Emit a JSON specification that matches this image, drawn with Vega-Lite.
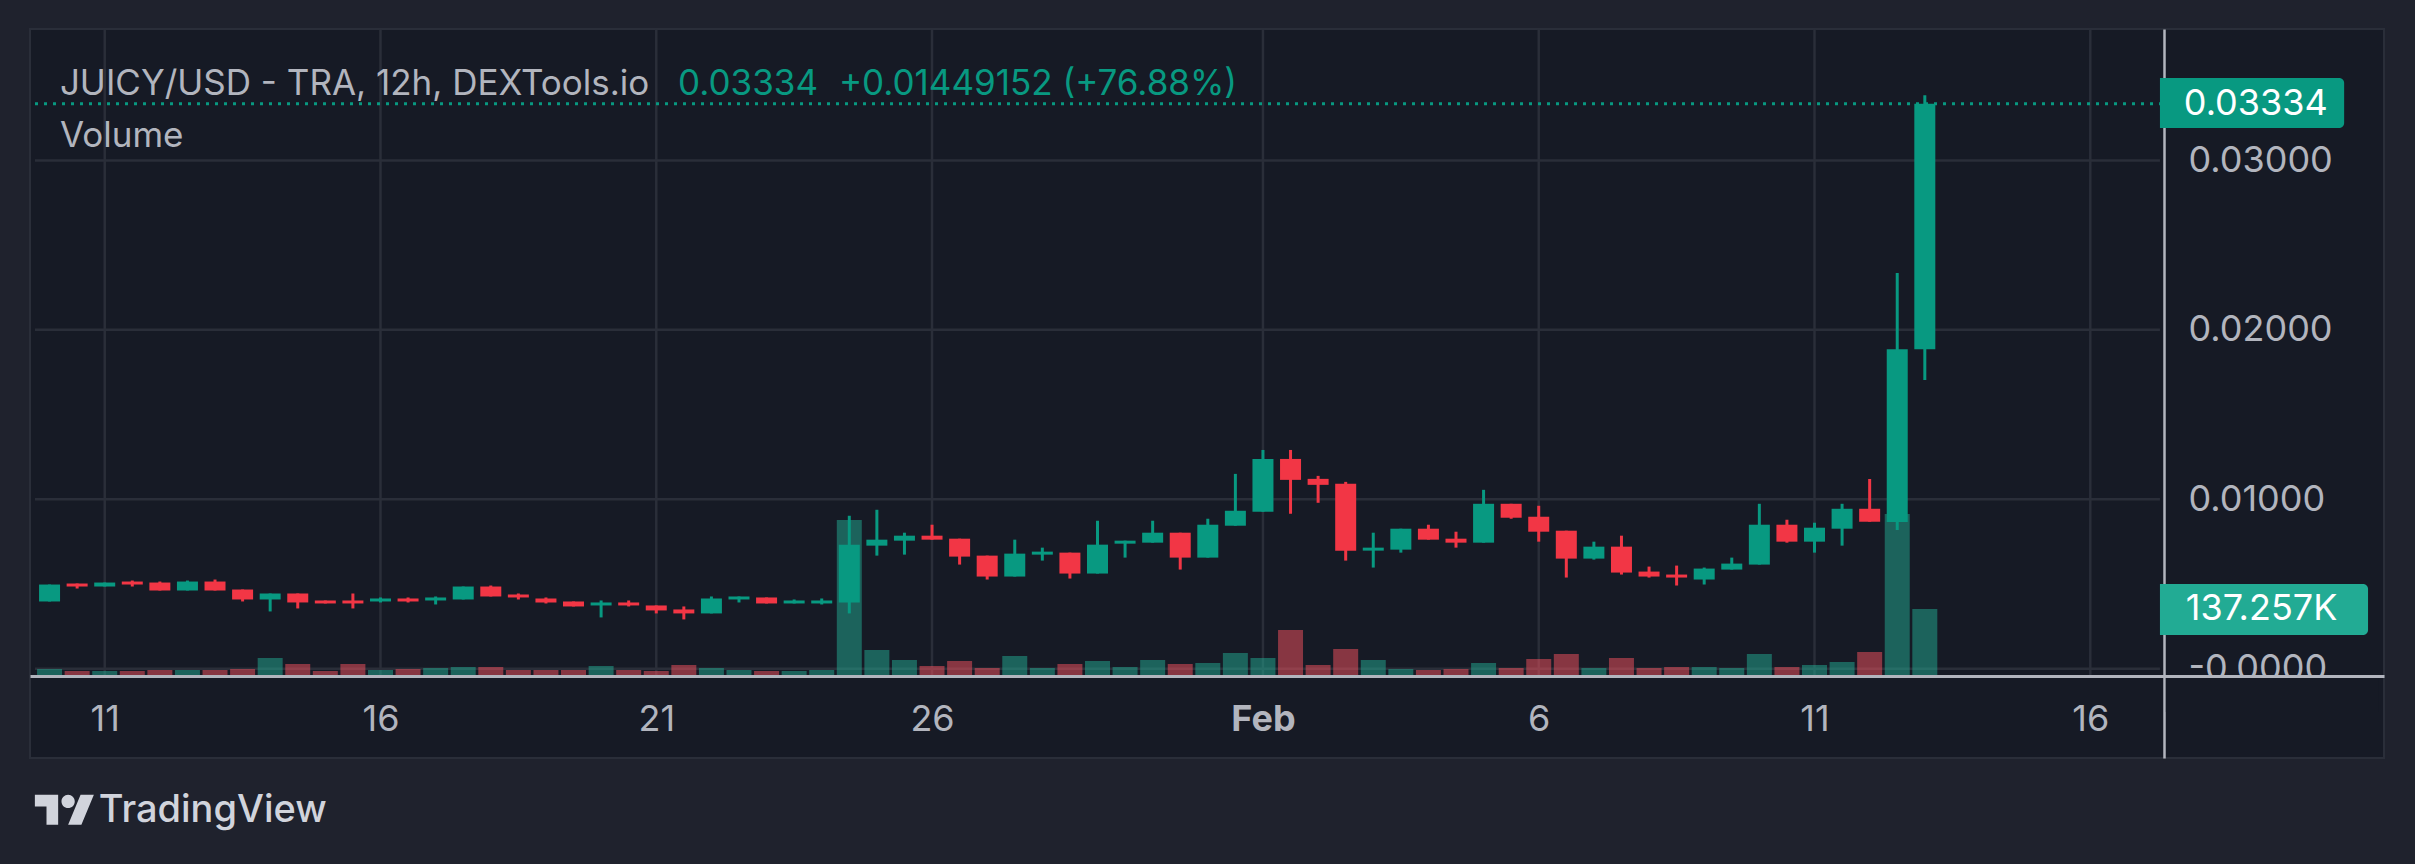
{
"$schema": "https://vega.github.io/schema/vega-lite/v6.json",
"width": 2354, "height": 729, "autosize": "none",
"padding": {"left": 30, "top": 29, "right": 31, "bottom": 106},
"background": "#1f222d",
"config": {"view": {"fill": "#161a25", "stroke": "#2a2e39", "strokeWidth": 2}, "font": "Inter"},
"datasets": {
"ohlc": [
{"t":"2024-01-10T00:00:00Z","o":0.00397,"h":0.00497,"l":0.00397,"c":0.00497,"v":14300},
{"t":"2024-01-10T12:00:00Z","o":0.00503,"h":0.00503,"l":0.004735,"c":0.004853,"v":10200},
{"t":"2024-01-11T00:00:00Z","o":0.004853,"h":0.005088,"l":0.004853,"c":0.005088,"v":10200},
{"t":"2024-01-11T12:00:00Z","o":0.005147,"h":0.005206,"l":0.004853,"c":0.004971,"v":10200},
{"t":"2024-01-12T00:00:00Z","o":0.005088,"h":0.005147,"l":0.004618,"c":0.004618,"v":12300},
{"t":"2024-01-12T12:00:00Z","o":0.004618,"h":0.005206,"l":0.004618,"c":0.005147,"v":12300},
{"t":"2024-01-13T00:00:00Z","o":0.005147,"h":0.005265,"l":0.004618,"c":0.004618,"v":12300},
{"t":"2024-01-13T12:00:00Z","o":0.004676,"h":0.004676,"l":0.003971,"c":0.004088,"v":14300},
{"t":"2024-01-14T00:00:00Z","o":0.004088,"h":0.004441,"l":0.003382,"c":0.004441,"v":36900},
{"t":"2024-01-14T12:00:00Z","o":0.004441,"h":0.004441,"l":0.003559,"c":0.003912,"v":24600},
{"t":"2024-01-15T00:00:00Z","o":0.004029,"h":0.004029,"l":0.003853,"c":0.003853,"v":10200},
{"t":"2024-01-15T12:00:00Z","o":0.004029,"h":0.004441,"l":0.003559,"c":0.003853,"v":24600},
{"t":"2024-01-16T00:00:00Z","o":0.00397,"h":0.004206,"l":0.003912,"c":0.004147,"v":12300},
{"t":"2024-01-16T12:00:00Z","o":0.004147,"h":0.004206,"l":0.003912,"c":0.00397,"v":14300},
{"t":"2024-01-17T00:00:00Z","o":0.004029,"h":0.004265,"l":0.003794,"c":0.004206,"v":16400},
{"t":"2024-01-17T12:00:00Z","o":0.004088,"h":0.004853,"l":0.004088,"c":0.004853,"v":18400},
{"t":"2024-01-18T00:00:00Z","o":0.004853,"h":0.004912,"l":0.004265,"c":0.004265,"v":18400},
{"t":"2024-01-18T12:00:00Z","o":0.004382,"h":0.004441,"l":0.004088,"c":0.004206,"v":12300},
{"t":"2024-01-19T00:00:00Z","o":0.004147,"h":0.004206,"l":0.003853,"c":0.003912,"v":12300},
{"t":"2024-01-19T12:00:00Z","o":0.00397,"h":0.00397,"l":0.003676,"c":0.003676,"v":12300},
{"t":"2024-01-20T00:00:00Z","o":0.003735,"h":0.004029,"l":0.003029,"c":0.003912,"v":20500},
{"t":"2024-01-20T12:00:00Z","o":0.003912,"h":0.004029,"l":0.003676,"c":0.003735,"v":12300},
{"t":"2024-01-21T00:00:00Z","o":0.003735,"h":0.003735,"l":0.003265,"c":0.003441,"v":10200},
{"t":"2024-01-21T12:00:00Z","o":0.0035,"h":0.003676,"l":0.002912,"c":0.003265,"v":22500},
{"t":"2024-01-22T00:00:00Z","o":0.003265,"h":0.004265,"l":0.003265,"c":0.004147,"v":16400},
{"t":"2024-01-22T12:00:00Z","o":0.004088,"h":0.004265,"l":0.003912,"c":0.004265,"v":12300},
{"t":"2024-01-23T00:00:00Z","o":0.004206,"h":0.004206,"l":0.003853,"c":0.003853,"v":10200},
{"t":"2024-01-23T12:00:00Z","o":0.003853,"h":0.004088,"l":0.003853,"c":0.004029,"v":10200},
{"t":"2024-01-24T00:00:00Z","o":0.003853,"h":0.004147,"l":0.003794,"c":0.004029,"v":12300},
{"t":"2024-01-24T12:00:00Z","o":0.003912,"h":0.009029,"l":0.003265,"c":0.007324,"v":319600},
{"t":"2024-01-25T00:00:00Z","o":0.007265,"h":0.009382,"l":0.006676,"c":0.007618,"v":53300},
{"t":"2024-01-25T12:00:00Z","o":0.007559,"h":0.008029,"l":0.006735,"c":0.007853,"v":32800},
{"t":"2024-01-26T00:00:00Z","o":0.007853,"h":0.0085,"l":0.007618,"c":0.007618,"v":20500},
{"t":"2024-01-26T12:00:00Z","o":0.007676,"h":0.007676,"l":0.006147,"c":0.006618,"v":30700},
{"t":"2024-01-27T00:00:00Z","o":0.006676,"h":0.006676,"l":0.005265,"c":0.005441,"v":16400},
{"t":"2024-01-27T12:00:00Z","o":0.005441,"h":0.007618,"l":0.005441,"c":0.006794,"v":41000},
{"t":"2024-01-28T00:00:00Z","o":0.006735,"h":0.007147,"l":0.006382,"c":0.006912,"v":16400},
{"t":"2024-01-28T12:00:00Z","o":0.006853,"h":0.006853,"l":0.005324,"c":0.005618,"v":24600},
{"t":"2024-01-29T00:00:00Z","o":0.005618,"h":0.008735,"l":0.005618,"c":0.007324,"v":30700},
{"t":"2024-01-29T12:00:00Z","o":0.007382,"h":0.007559,"l":0.006559,"c":0.007559,"v":18400},
{"t":"2024-01-30T00:00:00Z","o":0.007441,"h":0.008735,"l":0.007441,"c":0.008029,"v":32800},
{"t":"2024-01-30T12:00:00Z","o":0.008029,"h":0.008029,"l":0.005853,"c":0.006559,"v":24600},
{"t":"2024-01-31T00:00:00Z","o":0.006559,"h":0.008853,"l":0.006559,"c":0.0085,"v":26600},
{"t":"2024-01-31T12:00:00Z","o":0.008441,"h":0.0115,"l":0.008441,"c":0.009324,"v":47100},
{"t":"2024-02-01T00:00:00Z","o":0.009265,"h":0.012912,"l":0.009265,"c":0.012382,"v":36900},
{"t":"2024-02-01T12:00:00Z","o":0.012382,"h":0.012912,"l":0.009147,"c":0.011147,"v":94200},
{"t":"2024-02-02T00:00:00Z","o":0.011206,"h":0.011382,"l":0.009794,"c":0.010853,"v":22500},
{"t":"2024-02-02T12:00:00Z","o":0.010912,"h":0.011029,"l":0.006382,"c":0.006971,"v":55300},
{"t":"2024-02-03T00:00:00Z","o":0.006971,"h":0.008029,"l":0.005971,"c":0.007147,"v":32800},
{"t":"2024-02-03T12:00:00Z","o":0.007029,"h":0.008265,"l":0.006853,"c":0.008265,"v":14300},
{"t":"2024-02-04T00:00:00Z","o":0.008265,"h":0.0085,"l":0.007618,"c":0.007618,"v":12300},
{"t":"2024-02-04T12:00:00Z","o":0.007676,"h":0.008088,"l":0.007147,"c":0.007441,"v":14300},
{"t":"2024-02-05T00:00:00Z","o":0.007441,"h":0.010559,"l":0.007441,"c":0.009735,"v":26600},
{"t":"2024-02-05T12:00:00Z","o":0.009735,"h":0.009735,"l":0.008853,"c":0.008912,"v":16400},
{"t":"2024-02-06T00:00:00Z","o":0.008971,"h":0.009618,"l":0.0075,"c":0.008088,"v":34800},
{"t":"2024-02-06T12:00:00Z","o":0.008147,"h":0.008147,"l":0.005382,"c":0.0065,"v":45100},
{"t":"2024-02-07T00:00:00Z","o":0.0065,"h":0.0075,"l":0.006441,"c":0.007206,"v":16400},
{"t":"2024-02-07T12:00:00Z","o":0.007206,"h":0.007853,"l":0.005559,"c":0.005676,"v":36900},
{"t":"2024-02-08T00:00:00Z","o":0.005735,"h":0.006029,"l":0.005382,"c":0.005441,"v":16400},
{"t":"2024-02-08T12:00:00Z","o":0.005559,"h":0.006088,"l":0.004912,"c":0.005382,"v":18400},
{"t":"2024-02-09T00:00:00Z","o":0.005265,"h":0.005971,"l":0.004971,"c":0.005912,"v":18400},
{"t":"2024-02-09T12:00:00Z","o":0.005853,"h":0.006559,"l":0.005853,"c":0.006206,"v":16400},
{"t":"2024-02-10T00:00:00Z","o":0.006147,"h":0.009735,"l":0.006147,"c":0.0085,"v":45100},
{"t":"2024-02-10T12:00:00Z","o":0.0085,"h":0.008794,"l":0.007441,"c":0.0075,"v":18400},
{"t":"2024-02-11T00:00:00Z","o":0.0075,"h":0.008618,"l":0.006853,"c":0.008324,"v":22500},
{"t":"2024-02-11T12:00:00Z","o":0.008265,"h":0.009735,"l":0.007265,"c":0.009441,"v":28700},
{"t":"2024-02-12T00:00:00Z","o":0.009441,"h":0.0112,"l":0.008676,"c":0.008676,"v":49200},
{"t":"2024-02-12T12:00:00Z","o":0.00866,"h":0.02335,"l":0.00819,"c":0.01885,"v":331900},
{"t":"2024-02-13T00:00:00Z","o":0.01885,"h":0.03385,"l":0.01704,"c":0.03334,"v":137257}
],
"vgrid": [{"t":"2024-01-11T00:00:00Z"},{"t":"2024-01-16T00:00:00Z"},{"t":"2024-01-21T00:00:00Z"},{"t":"2024-01-26T00:00:00Z"},{"t":"2024-02-01T00:00:00Z"},{"t":"2024-02-06T00:00:00Z"},{"t":"2024-02-11T00:00:00Z"},{"t":"2024-02-16T00:00:00Z"}],
"hgrid": [{"p":0},{"p":0.01},{"p":0.02},{"p":0.03}]
},
"resolve": {"scale": {"y": "independent"}},
"layer": [
{"data": {"name": "vgrid"}, "mark": {"type": "rule", "stroke": "#2a2e39", "strokeWidth": 2.5},
 "encoding": {
  "x": {"field": "t", "type": "temporal",
        "scale": {"type": "utc", "domain": [{"year":2024,"month":1,"date":9,"hours":17,"minutes":40,"utc":true},{"year":2024,"month":2,"date":21,"hours":5,"minutes":38,"utc":true}]},
        "axis": {"orient": "bottom", "offset": -82, "title": null, "grid": false, "ticks": false, "values": [{"year":2024,"month":1,"date":11,"utc":true},{"year":2024,"month":1,"date":16,"utc":true},{"year":2024,"month":1,"date":21,"utc":true},{"year":2024,"month":1,"date":26,"utc":true},{"year":2024,"month":2,"date":1,"utc":true},{"year":2024,"month":2,"date":6,"utc":true},{"year":2024,"month":2,"date":11,"utc":true},{"year":2024,"month":2,"date":16,"utc":true}], "labelExpr": "utcdate(datum.value) == 1 ? utcFormat(datum.value, '%b') : utcFormat(datum.value, '%-d')", "labelFontWeight": {"condition": {"test": "utcdate(datum.value) == 1", "value": "bold"}, "value": "normal"}, "domainColor": "#b2b5be", "domainWidth": 3, "labelColor": "#b2b5be", "labelFont": "Inter", "labelFontSize": 36, "labelPadding": 43, "labelBaseline": "middle", "labelFlush": false, "labelOverlap": false, "labelBound": false, "zindex": 1}},
  "y": {"datum": 0.037755, "type": "quantitative", "scale": {"domain": [-0.005267, 0.037755], "nice": false, "zero": false}, "axis": null},
  "y2": {"datum": -0.0004}}},
{"data": {"name": "hgrid"}, "mark": {"type": "rule", "stroke": "#2a2e39", "strokeWidth": 2.5},
 "encoding": {
  "x": {"datum": {"year":2024,"month":1,"date":9,"hours":17,"minutes":40,"utc":true}, "type": "temporal", "scale": {"type": "utc", "domain": [{"year":2024,"month":1,"date":9,"hours":17,"minutes":40,"utc":true},{"year":2024,"month":2,"date":21,"hours":5,"minutes":38,"utc":true}]},
        "axis": {"orient": "bottom", "offset": -82, "title": null, "grid": false, "ticks": false, "values": [{"year":2024,"month":1,"date":11,"utc":true},{"year":2024,"month":1,"date":16,"utc":true},{"year":2024,"month":1,"date":21,"utc":true},{"year":2024,"month":1,"date":26,"utc":true},{"year":2024,"month":2,"date":1,"utc":true},{"year":2024,"month":2,"date":6,"utc":true},{"year":2024,"month":2,"date":11,"utc":true},{"year":2024,"month":2,"date":16,"utc":true}], "labelExpr": "utcdate(datum.value) == 1 ? utcFormat(datum.value, '%b') : utcFormat(datum.value, '%-d')", "labelFontWeight": {"condition": {"test": "utcdate(datum.value) == 1", "value": "bold"}, "value": "normal"}, "domainColor": "#b2b5be", "domainWidth": 3, "labelColor": "#b2b5be", "labelFont": "Inter", "labelFontSize": 36, "labelPadding": 43, "labelBaseline": "middle", "labelFlush": false, "labelOverlap": false, "labelBound": false, "zindex": 1}},
  "x2": {"datum": {"year":2024,"month":2,"date":17,"hours":6,"minutes":19,"utc":true}},
  "y": {"field": "p", "type": "quantitative", "scale": {"domain": [-0.005267, 0.037755], "nice": false, "zero": false},
        "axis": {"orient": "right", "offset": -220, "title": null, "grid": false, "ticks": false, "values": [0, 0.01, 0.02, 0.03],
                 "labelExpr": "datum.value == 0 ? '-0.0000' : format(datum.value, '.5f')",
                 "domainColor": "#b2b5be", "domainWidth": 2.5, "labelColor": "#b2b5be", "labelFont": "Inter", "labelFontSize": 36,
                 "labelPadding": 24, "labelBaseline": "middle", "labelFlush": false, "labelOverlap": false, "labelBound": false, "zindex": 0}}}},
{"data": {"name": "ohlc"}, "mark": {"type": "bar", "size": 25, "opacity": 0.5},
 "encoding": {
  "x": {"field": "t", "type": "temporal", "scale": {"type": "utc", "domain": [{"year":2024,"month":1,"date":9,"hours":17,"minutes":40,"utc":true},{"year":2024,"month":2,"date":21,"hours":5,"minutes":38,"utc":true}]},
        "axis": {"orient": "bottom", "offset": -82, "title": null, "grid": false, "ticks": false, "values": [{"year":2024,"month":1,"date":11,"utc":true},{"year":2024,"month":1,"date":16,"utc":true},{"year":2024,"month":1,"date":21,"utc":true},{"year":2024,"month":1,"date":26,"utc":true},{"year":2024,"month":2,"date":1,"utc":true},{"year":2024,"month":2,"date":6,"utc":true},{"year":2024,"month":2,"date":11,"utc":true},{"year":2024,"month":2,"date":16,"utc":true}], "labelExpr": "utcdate(datum.value) == 1 ? utcFormat(datum.value, '%b') : utcFormat(datum.value, '%-d')", "labelFontWeight": {"condition": {"test": "utcdate(datum.value) == 1", "value": "bold"}, "value": "normal"}, "domainColor": "#b2b5be", "domainWidth": 3, "labelColor": "#b2b5be", "labelFont": "Inter", "labelFontSize": 36, "labelPadding": 43, "labelBaseline": "middle", "labelFlush": false, "labelOverlap": false, "labelBound": false, "zindex": 1}},
  "y": {"field": "v", "type": "quantitative", "scale": {"domain": [-167985, 1325445], "nice": false, "zero": false}, "axis": null},
  "y2": {"datum": 0},
  "color": {"condition": {"test": "datum.c >= datum.o", "value": "#22ab94"}, "value": "#f7525f"}}},
{"data": {"values": [{}]}, "mark": {"type": "rule", "stroke": "#089981", "strokeWidth": 3, "strokeDash": [3, 6]},
 "encoding": {
  "x": {"datum": {"year":2024,"month":1,"date":9,"hours":17,"minutes":40,"utc":true}, "type": "temporal", "scale": {"type": "utc", "domain": [{"year":2024,"month":1,"date":9,"hours":17,"minutes":40,"utc":true},{"year":2024,"month":2,"date":21,"hours":5,"minutes":38,"utc":true}]},
        "axis": {"orient": "bottom", "offset": -82, "title": null, "grid": false, "ticks": false, "values": [{"year":2024,"month":1,"date":11,"utc":true},{"year":2024,"month":1,"date":16,"utc":true},{"year":2024,"month":1,"date":21,"utc":true},{"year":2024,"month":1,"date":26,"utc":true},{"year":2024,"month":2,"date":1,"utc":true},{"year":2024,"month":2,"date":6,"utc":true},{"year":2024,"month":2,"date":11,"utc":true},{"year":2024,"month":2,"date":16,"utc":true}], "labelExpr": "utcdate(datum.value) == 1 ? utcFormat(datum.value, '%b') : utcFormat(datum.value, '%-d')", "labelFontWeight": {"condition": {"test": "utcdate(datum.value) == 1", "value": "bold"}, "value": "normal"}, "domainColor": "#b2b5be", "domainWidth": 3, "labelColor": "#b2b5be", "labelFont": "Inter", "labelFontSize": 36, "labelPadding": 43, "labelBaseline": "middle", "labelFlush": false, "labelOverlap": false, "labelBound": false, "zindex": 1}},
  "x2": {"datum": {"year":2024,"month":2,"date":17,"hours":6,"minutes":19,"utc":true}},
  "y": {"datum": 0.03334, "type": "quantitative", "scale": {"domain": [-0.005267, 0.037755], "nice": false, "zero": false}, "axis": null}}},
{"data": {"name": "ohlc"}, "mark": {"type": "rule", "strokeWidth": 3},
 "encoding": {
  "x": {"field": "t", "type": "temporal", "scale": {"type": "utc", "domain": [{"year":2024,"month":1,"date":9,"hours":17,"minutes":40,"utc":true},{"year":2024,"month":2,"date":21,"hours":5,"minutes":38,"utc":true}]},
        "axis": {"orient": "bottom", "offset": -82, "title": null, "grid": false, "ticks": false, "values": [{"year":2024,"month":1,"date":11,"utc":true},{"year":2024,"month":1,"date":16,"utc":true},{"year":2024,"month":1,"date":21,"utc":true},{"year":2024,"month":1,"date":26,"utc":true},{"year":2024,"month":2,"date":1,"utc":true},{"year":2024,"month":2,"date":6,"utc":true},{"year":2024,"month":2,"date":11,"utc":true},{"year":2024,"month":2,"date":16,"utc":true}], "labelExpr": "utcdate(datum.value) == 1 ? utcFormat(datum.value, '%b') : utcFormat(datum.value, '%-d')", "labelFontWeight": {"condition": {"test": "utcdate(datum.value) == 1", "value": "bold"}, "value": "normal"}, "domainColor": "#b2b5be", "domainWidth": 3, "labelColor": "#b2b5be", "labelFont": "Inter", "labelFontSize": 36, "labelPadding": 43, "labelBaseline": "middle", "labelFlush": false, "labelOverlap": false, "labelBound": false, "zindex": 1}},
  "y": {"field": "l", "type": "quantitative", "scale": {"domain": [-0.005267, 0.037755], "nice": false, "zero": false}, "axis": null},
  "y2": {"field": "h"},
  "color": {"condition": {"test": "datum.c >= datum.o", "value": "#089981"}, "value": "#f23645"}}},
{"data": {"name": "ohlc"}, "mark": {"type": "bar", "size": 21},
 "encoding": {
  "x": {"field": "t", "type": "temporal", "scale": {"type": "utc", "domain": [{"year":2024,"month":1,"date":9,"hours":17,"minutes":40,"utc":true},{"year":2024,"month":2,"date":21,"hours":5,"minutes":38,"utc":true}]},
        "axis": {"orient": "bottom", "offset": -82, "title": null, "grid": false, "ticks": false, "values": [{"year":2024,"month":1,"date":11,"utc":true},{"year":2024,"month":1,"date":16,"utc":true},{"year":2024,"month":1,"date":21,"utc":true},{"year":2024,"month":1,"date":26,"utc":true},{"year":2024,"month":2,"date":1,"utc":true},{"year":2024,"month":2,"date":6,"utc":true},{"year":2024,"month":2,"date":11,"utc":true},{"year":2024,"month":2,"date":16,"utc":true}], "labelExpr": "utcdate(datum.value) == 1 ? utcFormat(datum.value, '%b') : utcFormat(datum.value, '%-d')", "labelFontWeight": {"condition": {"test": "utcdate(datum.value) == 1", "value": "bold"}, "value": "normal"}, "domainColor": "#b2b5be", "domainWidth": 3, "labelColor": "#b2b5be", "labelFont": "Inter", "labelFontSize": 36, "labelPadding": 43, "labelBaseline": "middle", "labelFlush": false, "labelOverlap": false, "labelBound": false, "zindex": 1}},
  "y": {"field": "o", "type": "quantitative", "scale": {"domain": [-0.005267, 0.037755], "nice": false, "zero": false}, "axis": null},
  "y2": {"field": "c"},
  "color": {"condition": {"test": "datum.c >= datum.o", "value": "#089981"}, "value": "#f23645"}}},
{"data": {"values": [{}]}, "mark": {"type": "rect", "fill": "#161a25"},
 "encoding": {
  "x": {"datum": {"year":2024,"month":2,"date":17,"hours":8,"minutes":54,"utc":true}, "type": "temporal", "scale": {"type": "utc", "domain": [{"year":2024,"month":1,"date":9,"hours":17,"minutes":40,"utc":true},{"year":2024,"month":2,"date":21,"hours":5,"minutes":38,"utc":true}]},
        "axis": {"orient": "bottom", "offset": -82, "title": null, "grid": false, "ticks": false, "values": [{"year":2024,"month":1,"date":11,"utc":true},{"year":2024,"month":1,"date":16,"utc":true},{"year":2024,"month":1,"date":21,"utc":true},{"year":2024,"month":1,"date":26,"utc":true},{"year":2024,"month":2,"date":1,"utc":true},{"year":2024,"month":2,"date":6,"utc":true},{"year":2024,"month":2,"date":11,"utc":true},{"year":2024,"month":2,"date":16,"utc":true}], "labelExpr": "utcdate(datum.value) == 1 ? utcFormat(datum.value, '%b') : utcFormat(datum.value, '%-d')", "labelFontWeight": {"condition": {"test": "utcdate(datum.value) == 1", "value": "bold"}, "value": "normal"}, "domainColor": "#b2b5be", "domainWidth": 3, "labelColor": "#b2b5be", "labelFont": "Inter", "labelFontSize": 36, "labelPadding": 43, "labelBaseline": "middle", "labelFlush": false, "labelOverlap": false, "labelBound": false, "zindex": 1}},
  "x2": {"datum": {"year":2024,"month":2,"date":21,"hours":5,"minutes":30,"utc":true}},
  "y": {"datum": -0.000427, "type": "quantitative", "scale": {"domain": [-0.005267, 0.037755], "nice": false, "zero": false}, "axis": null},
  "y2": {"datum": -0.002552}}},
{"data": {"values": [{}]}, "mark": {"type": "rect", "fill": "#089981", "cornerRadiusTopRight": 5, "cornerRadiusBottomRight": 5},
 "encoding": {
  "x": {"datum": {"year":2024,"month":2,"date":17,"hours":6,"minutes":19,"utc":true}, "type": "temporal", "scale": {"type": "utc", "domain": [{"year":2024,"month":1,"date":9,"hours":17,"minutes":40,"utc":true},{"year":2024,"month":2,"date":21,"hours":5,"minutes":38,"utc":true}]},
        "axis": {"orient": "bottom", "offset": -82, "title": null, "grid": false, "ticks": false, "values": [{"year":2024,"month":1,"date":11,"utc":true},{"year":2024,"month":1,"date":16,"utc":true},{"year":2024,"month":1,"date":21,"utc":true},{"year":2024,"month":1,"date":26,"utc":true},{"year":2024,"month":2,"date":1,"utc":true},{"year":2024,"month":2,"date":6,"utc":true},{"year":2024,"month":2,"date":11,"utc":true},{"year":2024,"month":2,"date":16,"utc":true}], "labelExpr": "utcdate(datum.value) == 1 ? utcFormat(datum.value, '%b') : utcFormat(datum.value, '%-d')", "labelFontWeight": {"condition": {"test": "utcdate(datum.value) == 1", "value": "bold"}, "value": "normal"}, "domainColor": "#b2b5be", "domainWidth": 3, "labelColor": "#b2b5be", "labelFont": "Inter", "labelFontSize": 36, "labelPadding": 43, "labelBaseline": "middle", "labelFlush": false, "labelOverlap": false, "labelBound": false, "zindex": 1}},
  "x2": {"datum": {"year":2024,"month":2,"date":20,"hours":14,"minutes":28,"utc":true}},
  "y": {"datum": 0.034863, "type": "quantitative", "scale": {"domain": [-0.005267, 0.037755], "nice": false, "zero": false}, "axis": null},
  "y2": {"datum": 0.031913}}},
{"data": {"values": [{}]}, "mark": {"type": "text", "text": "0.03334", "align": "left", "baseline": "middle", "fontSize": 36, "color": "#ffffff"},
 "encoding": {
  "x": {"datum": {"year":2024,"month":2,"date":17,"hours":16,"minutes":43,"utc":true}, "type": "temporal", "scale": {"type": "utc", "domain": [{"year":2024,"month":1,"date":9,"hours":17,"minutes":40,"utc":true},{"year":2024,"month":2,"date":21,"hours":5,"minutes":38,"utc":true}]},
        "axis": {"orient": "bottom", "offset": -82, "title": null, "grid": false, "ticks": false, "values": [{"year":2024,"month":1,"date":11,"utc":true},{"year":2024,"month":1,"date":16,"utc":true},{"year":2024,"month":1,"date":21,"utc":true},{"year":2024,"month":1,"date":26,"utc":true},{"year":2024,"month":2,"date":1,"utc":true},{"year":2024,"month":2,"date":6,"utc":true},{"year":2024,"month":2,"date":11,"utc":true},{"year":2024,"month":2,"date":16,"utc":true}], "labelExpr": "utcdate(datum.value) == 1 ? utcFormat(datum.value, '%b') : utcFormat(datum.value, '%-d')", "labelFontWeight": {"condition": {"test": "utcdate(datum.value) == 1", "value": "bold"}, "value": "normal"}, "domainColor": "#b2b5be", "domainWidth": 3, "labelColor": "#b2b5be", "labelFont": "Inter", "labelFontSize": 36, "labelPadding": 43, "labelBaseline": "middle", "labelFlush": false, "labelOverlap": false, "labelBound": false, "zindex": 1}},
  "y": {"datum": 0.03334, "type": "quantitative", "scale": {"domain": [-0.005267, 0.037755], "nice": false, "zero": false}, "axis": null}}},
{"data": {"values": [{}]}, "mark": {"type": "rect", "fill": "#22ab94", "cornerRadiusTopRight": 5, "cornerRadiusBottomRight": 5},
 "encoding": {
  "x": {"datum": {"year":2024,"month":2,"date":17,"hours":6,"minutes":19,"utc":true}, "type": "temporal", "scale": {"type": "utc", "domain": [{"year":2024,"month":1,"date":9,"hours":17,"minutes":40,"utc":true},{"year":2024,"month":2,"date":21,"hours":5,"minutes":38,"utc":true}]},
        "axis": {"orient": "bottom", "offset": -82, "title": null, "grid": false, "ticks": false, "values": [{"year":2024,"month":1,"date":11,"utc":true},{"year":2024,"month":1,"date":16,"utc":true},{"year":2024,"month":1,"date":21,"utc":true},{"year":2024,"month":1,"date":26,"utc":true},{"year":2024,"month":2,"date":1,"utc":true},{"year":2024,"month":2,"date":6,"utc":true},{"year":2024,"month":2,"date":11,"utc":true},{"year":2024,"month":2,"date":16,"utc":true}], "labelExpr": "utcdate(datum.value) == 1 ? utcFormat(datum.value, '%b') : utcFormat(datum.value, '%-d')", "labelFontWeight": {"condition": {"test": "utcdate(datum.value) == 1", "value": "bold"}, "value": "normal"}, "domainColor": "#b2b5be", "domainWidth": 3, "labelColor": "#b2b5be", "labelFont": "Inter", "labelFontSize": 36, "labelPadding": 43, "labelBaseline": "middle", "labelFlush": false, "labelOverlap": false, "labelBound": false, "zindex": 1}},
  "x2": {"datum": {"year":2024,"month":2,"date":21,"hours":0,"minutes":52,"utc":true}},
  "y": {"datum": 188472, "type": "quantitative", "scale": {"domain": [-167985, 1325445], "nice": false, "zero": false}, "axis": null},
  "y2": {"datum": 83993}}},
{"data": {"values": [{}]}, "mark": {"type": "text", "text": "137.257K", "align": "left", "baseline": "middle", "fontSize": 36, "color": "#ffffff"},
 "encoding": {
  "x": {"datum": {"year":2024,"month":2,"date":17,"hours":17,"minutes":35,"utc":true}, "type": "temporal", "scale": {"type": "utc", "domain": [{"year":2024,"month":1,"date":9,"hours":17,"minutes":40,"utc":true},{"year":2024,"month":2,"date":21,"hours":5,"minutes":38,"utc":true}]},
        "axis": {"orient": "bottom", "offset": -82, "title": null, "grid": false, "ticks": false, "values": [{"year":2024,"month":1,"date":11,"utc":true},{"year":2024,"month":1,"date":16,"utc":true},{"year":2024,"month":1,"date":21,"utc":true},{"year":2024,"month":1,"date":26,"utc":true},{"year":2024,"month":2,"date":1,"utc":true},{"year":2024,"month":2,"date":6,"utc":true},{"year":2024,"month":2,"date":11,"utc":true},{"year":2024,"month":2,"date":16,"utc":true}], "labelExpr": "utcdate(datum.value) == 1 ? utcFormat(datum.value, '%b') : utcFormat(datum.value, '%-d')", "labelFontWeight": {"condition": {"test": "utcdate(datum.value) == 1", "value": "bold"}, "value": "normal"}, "domainColor": "#b2b5be", "domainWidth": 3, "labelColor": "#b2b5be", "labelFont": "Inter", "labelFontSize": 36, "labelPadding": 43, "labelBaseline": "middle", "labelFlush": false, "labelOverlap": false, "labelBound": false, "zindex": 1}},
  "y": {"datum": 137257, "type": "quantitative", "scale": {"domain": [-167985, 1325445], "nice": false, "zero": false}, "axis": null}}},
{"data": {"values": [{}]}, "mark": {"type": "text", "text": "JUICY/USD - TRA, 12h, DEXTools.io", "align": "left", "baseline": "alphabetic", "fontSize": 35, "color": "#b2b5be"},
 "encoding": {
  "x": {"datum": {"year":2024,"month":1,"date":10,"hours":4,"minutes":30,"utc":true}, "type": "temporal", "scale": {"type": "utc", "domain": [{"year":2024,"month":1,"date":9,"hours":17,"minutes":40,"utc":true},{"year":2024,"month":2,"date":21,"hours":5,"minutes":38,"utc":true}]},
        "axis": {"orient": "bottom", "offset": -82, "title": null, "grid": false, "ticks": false, "values": [{"year":2024,"month":1,"date":11,"utc":true},{"year":2024,"month":1,"date":16,"utc":true},{"year":2024,"month":1,"date":21,"utc":true},{"year":2024,"month":1,"date":26,"utc":true},{"year":2024,"month":2,"date":1,"utc":true},{"year":2024,"month":2,"date":6,"utc":true},{"year":2024,"month":2,"date":11,"utc":true},{"year":2024,"month":2,"date":16,"utc":true}], "labelExpr": "utcdate(datum.value) == 1 ? utcFormat(datum.value, '%b') : utcFormat(datum.value, '%-d')", "labelFontWeight": {"condition": {"test": "utcdate(datum.value) == 1", "value": "bold"}, "value": "normal"}, "domainColor": "#b2b5be", "domainWidth": 3, "labelColor": "#b2b5be", "labelFont": "Inter", "labelFontSize": 36, "labelPadding": 43, "labelBaseline": "middle", "labelFlush": false, "labelOverlap": false, "labelBound": false, "zindex": 1}},
  "y": {"datum": 0.03386, "type": "quantitative", "scale": {"domain": [-0.005267, 0.037755], "nice": false, "zero": false}, "axis": null}}},
{"data": {"values": [{}]}, "mark": {"type": "text", "text": "0.03334", "align": "left", "baseline": "alphabetic", "fontSize": 35, "color": "#089981"},
 "encoding": {
  "x": {"datum": {"year":2024,"month":1,"date":21,"hours":9,"minutes":30,"utc":true}, "type": "temporal", "scale": {"type": "utc", "domain": [{"year":2024,"month":1,"date":9,"hours":17,"minutes":40,"utc":true},{"year":2024,"month":2,"date":21,"hours":5,"minutes":38,"utc":true}]},
        "axis": {"orient": "bottom", "offset": -82, "title": null, "grid": false, "ticks": false, "values": [{"year":2024,"month":1,"date":11,"utc":true},{"year":2024,"month":1,"date":16,"utc":true},{"year":2024,"month":1,"date":21,"utc":true},{"year":2024,"month":1,"date":26,"utc":true},{"year":2024,"month":2,"date":1,"utc":true},{"year":2024,"month":2,"date":6,"utc":true},{"year":2024,"month":2,"date":11,"utc":true},{"year":2024,"month":2,"date":16,"utc":true}], "labelExpr": "utcdate(datum.value) == 1 ? utcFormat(datum.value, '%b') : utcFormat(datum.value, '%-d')", "labelFontWeight": {"condition": {"test": "utcdate(datum.value) == 1", "value": "bold"}, "value": "normal"}, "domainColor": "#b2b5be", "domainWidth": 3, "labelColor": "#b2b5be", "labelFont": "Inter", "labelFontSize": 36, "labelPadding": 43, "labelBaseline": "middle", "labelFlush": false, "labelOverlap": false, "labelBound": false, "zindex": 1}},
  "y": {"datum": 0.03386, "type": "quantitative", "scale": {"domain": [-0.005267, 0.037755], "nice": false, "zero": false}, "axis": null}}},
{"data": {"values": [{}]}, "mark": {"type": "text", "text": "+0.01449152 (+76.88%)", "align": "left", "baseline": "alphabetic", "fontSize": 35, "color": "#089981"},
 "encoding": {
  "x": {"datum": {"year":2024,"month":1,"date":24,"hours":7,"minutes":30,"utc":true}, "type": "temporal", "scale": {"type": "utc", "domain": [{"year":2024,"month":1,"date":9,"hours":17,"minutes":40,"utc":true},{"year":2024,"month":2,"date":21,"hours":5,"minutes":38,"utc":true}]},
        "axis": {"orient": "bottom", "offset": -82, "title": null, "grid": false, "ticks": false, "values": [{"year":2024,"month":1,"date":11,"utc":true},{"year":2024,"month":1,"date":16,"utc":true},{"year":2024,"month":1,"date":21,"utc":true},{"year":2024,"month":1,"date":26,"utc":true},{"year":2024,"month":2,"date":1,"utc":true},{"year":2024,"month":2,"date":6,"utc":true},{"year":2024,"month":2,"date":11,"utc":true},{"year":2024,"month":2,"date":16,"utc":true}], "labelExpr": "utcdate(datum.value) == 1 ? utcFormat(datum.value, '%b') : utcFormat(datum.value, '%-d')", "labelFontWeight": {"condition": {"test": "utcdate(datum.value) == 1", "value": "bold"}, "value": "normal"}, "domainColor": "#b2b5be", "domainWidth": 3, "labelColor": "#b2b5be", "labelFont": "Inter", "labelFontSize": 36, "labelPadding": 43, "labelBaseline": "middle", "labelFlush": false, "labelOverlap": false, "labelBound": false, "zindex": 1}},
  "y": {"datum": 0.03386, "type": "quantitative", "scale": {"domain": [-0.005267, 0.037755], "nice": false, "zero": false}, "axis": null}}},
{"data": {"values": [{}]}, "mark": {"type": "text", "text": "Volume", "align": "left", "baseline": "alphabetic", "fontSize": 35, "color": "#b2b5be"},
 "encoding": {
  "x": {"datum": {"year":2024,"month":1,"date":10,"hours":4,"minutes":30,"utc":true}, "type": "temporal", "scale": {"type": "utc", "domain": [{"year":2024,"month":1,"date":9,"hours":17,"minutes":40,"utc":true},{"year":2024,"month":2,"date":21,"hours":5,"minutes":38,"utc":true}]},
        "axis": {"orient": "bottom", "offset": -82, "title": null, "grid": false, "ticks": false, "values": [{"year":2024,"month":1,"date":11,"utc":true},{"year":2024,"month":1,"date":16,"utc":true},{"year":2024,"month":1,"date":21,"utc":true},{"year":2024,"month":1,"date":26,"utc":true},{"year":2024,"month":2,"date":1,"utc":true},{"year":2024,"month":2,"date":6,"utc":true},{"year":2024,"month":2,"date":11,"utc":true},{"year":2024,"month":2,"date":16,"utc":true}], "labelExpr": "utcdate(datum.value) == 1 ? utcFormat(datum.value, '%b') : utcFormat(datum.value, '%-d')", "labelFontWeight": {"condition": {"test": "utcdate(datum.value) == 1", "value": "bold"}, "value": "normal"}, "domainColor": "#b2b5be", "domainWidth": 3, "labelColor": "#b2b5be", "labelFont": "Inter", "labelFontSize": 36, "labelPadding": 43, "labelBaseline": "middle", "labelFlush": false, "labelOverlap": false, "labelBound": false, "zindex": 1}},
  "y": {"datum": 0.030791, "type": "quantitative", "scale": {"domain": [-0.005267, 0.037755], "nice": false, "zero": false}, "axis": null}}},
{"data": {"values": [{}]}, "mark": {"type": "text", "text": "TradingView", "align": "left", "baseline": "alphabetic", "fontSize": 38, "fontWeight": 500, "color": "#d1d4dc"},
 "encoding": {
  "x": {"datum": {"year":2024,"month":1,"date":10,"hours":21,"minutes":24,"utc":true}, "type": "temporal", "scale": {"type": "utc", "domain": [{"year":2024,"month":1,"date":9,"hours":17,"minutes":40,"utc":true},{"year":2024,"month":2,"date":21,"hours":5,"minutes":38,"utc":true}]},
        "axis": {"orient": "bottom", "offset": -82, "title": null, "grid": false, "ticks": false, "values": [{"year":2024,"month":1,"date":11,"utc":true},{"year":2024,"month":1,"date":16,"utc":true},{"year":2024,"month":1,"date":21,"utc":true},{"year":2024,"month":1,"date":26,"utc":true},{"year":2024,"month":2,"date":1,"utc":true},{"year":2024,"month":2,"date":6,"utc":true},{"year":2024,"month":2,"date":11,"utc":true},{"year":2024,"month":2,"date":16,"utc":true}], "labelExpr": "utcdate(datum.value) == 1 ? utcFormat(datum.value, '%b') : utcFormat(datum.value, '%-d')", "labelFontWeight": {"condition": {"test": "utcdate(datum.value) == 1", "value": "bold"}, "value": "normal"}, "domainColor": "#b2b5be", "domainWidth": 3, "labelColor": "#b2b5be", "labelFont": "Inter", "labelFontSize": 36, "labelPadding": 43, "labelBaseline": "middle", "labelFlush": false, "labelOverlap": false, "labelBound": false, "zindex": 1}},
  "y": {"datum": -0.009043, "type": "quantitative", "scale": {"domain": [-0.005267, 0.037755], "nice": false, "zero": false}, "axis": null}}},
{"data": {"values": [{}]}, "mark": {"type": "point", "filled": true, "opacity": 1, "size": 3481, "color": "#d1d4dc", "strokeWidth": 0,
  "shape": "M-1,-0.507L-0.211,-0.507L-0.211,0.507L-0.606,0.507L-0.606,-0.113L-1,-0.113Z M-0.098,-0.282A0.225,0.225 0 1,0 0.352,-0.282A0.225,0.225 0 1,0 -0.098,-0.282Z M0.127,0.507L0.549,-0.507L1,-0.507L0.577,0.507Z"},
 "encoding": {
  "x": {"datum": {"year":2024,"month":1,"date":10,"hours":6,"minutes":27,"utc":true}, "type": "temporal", "scale": {"type": "utc", "domain": [{"year":2024,"month":1,"date":9,"hours":17,"minutes":40,"utc":true},{"year":2024,"month":2,"date":21,"hours":5,"minutes":38,"utc":true}]},
        "axis": {"orient": "bottom", "offset": -82, "title": null, "grid": false, "ticks": false, "values": [{"year":2024,"month":1,"date":11,"utc":true},{"year":2024,"month":1,"date":16,"utc":true},{"year":2024,"month":1,"date":21,"utc":true},{"year":2024,"month":1,"date":26,"utc":true},{"year":2024,"month":2,"date":1,"utc":true},{"year":2024,"month":2,"date":6,"utc":true},{"year":2024,"month":2,"date":11,"utc":true},{"year":2024,"month":2,"date":16,"utc":true}], "labelExpr": "utcdate(datum.value) == 1 ? utcFormat(datum.value, '%b') : utcFormat(datum.value, '%-d')", "labelFontWeight": {"condition": {"test": "utcdate(datum.value) == 1", "value": "bold"}, "value": "normal"}, "domainColor": "#b2b5be", "domainWidth": 3, "labelColor": "#b2b5be", "labelFont": "Inter", "labelFontSize": 36, "labelPadding": 43, "labelBaseline": "middle", "labelFlush": false, "labelOverlap": false, "labelBound": false, "zindex": 1}},
  "y": {"datum": -0.008323, "type": "quantitative", "scale": {"domain": [-0.005267, 0.037755], "nice": false, "zero": false}, "axis": null}}}
]
}
